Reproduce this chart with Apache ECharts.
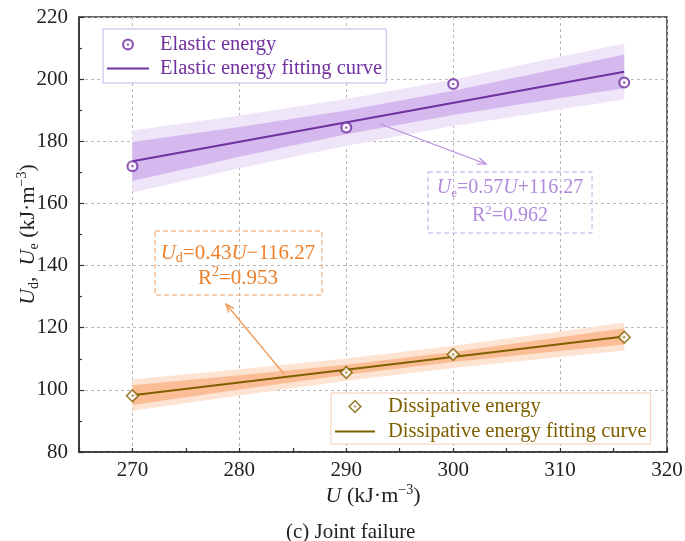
<!DOCTYPE html>
<html><head><meta charset="utf-8">
<script src="https://cdn.jsdelivr.net/npm/echarts@6/dist/echarts.min.js"></script>
<style>html,body{margin:0;padding:0;background:#fff}#c{width:685px;height:541px}</style>
</head><body><div id="c"></div>
<script>
// ---------- data ----------
const xTickLabels = [270, 280, 290, 300, 310, 320];
const yTickLabels = [80, 100, 120, 140, 160, 180, 200, 220];
const elasticX = [270, 290, 300, 316];
const elasticY = [172.0, 184.4, 198.4, 198.9];
const dissipX = [270, 290, 300, 316];
const dissipY = [98.1, 105.6, 111.4, 116.9];
const fitX = [270, 316];
const elasticFitY = [173.6, 202.4];
const dissipFitY = [98.3, 117.2];
const bandX = [270, 280, 290, 300, 310, 316];
const elasticConfUpper = [179.8, 184.6, 189.9, 196.3, 203.5, 207.9];
const elasticConfLower = [167.2, 175.0, 182.3, 188.5, 193.9, 197.1];
const elasticPredUpper = [183.5, 188.3, 193.6, 199.9, 207.2, 211.5];
const elasticPredLower = [163.5, 171.3, 178.6, 184.9, 190.2, 193.5];
const dissipConfUpper = [101.5, 104.7, 108.1, 112.2, 116.9, 119.8];
const dissipConfLower = [95.1, 100.1, 104.9, 109.0, 112.5, 114.6];
const dissipPredUpper = [103.3, 106.6, 110.1, 114.2, 118.8, 121.7];
const dissipPredLower = [93.3, 98.2, 102.9, 107.0, 110.6, 112.7];

// ---------- styles ----------
const SERIF = '"Liberation Serif","Times New Roman",serif';
const PURPLE = '#7030a0', PURPLE_T = '#b088dc', PURPLE_D = '#d4b8ee', PURPLE_L = '#efe5f9';
const OLIVE = '#7f6000', ORANGE = '#ef7f2a', ORANGE_D = '#fbbd95', ORANGE_L = '#fde3d2';
const ringPath = 'path://M0,-10A10,10,0,1,1,0,10A10,10,0,1,1,0,-10ZM0,-6.4A6.4,6.4,0,1,0,0,6.4A6.4,6.4,0,1,0,0,-6.4ZM0,-2A2,2,0,1,1,0,2A2,2,0,1,1,0,-2Z';
const diamondPath = 'path://M0,-10L10,0L0,10L-10,0ZM0,-6.8L-6.8,0L0,6.8L6.8,0ZM0,-1.8L1.8,0L0,1.8L-1.8,0Z';
const linePath = 'path://M0,0H40V2H0Z';

// rich styles for ECharts text options (color) and raw zrender graphic text (fill)
function rich(color, fs, key) {
  key = key || 'color';
  const mk = (o) => { o[key] = color; return o; };
  return {
    i: mk({fontFamily: SERIF, fontStyle: 'italic', fontSize: fs, lineHeight: fs + 4}),
    n: mk({fontFamily: SERIF, fontSize: fs, lineHeight: fs + 4}),
    sub: mk({fontFamily: SERIF, fontSize: Math.round(fs * 0.65), verticalAlign: 'bottom', lineHeight: Math.round(fs * 0.7)}),
    sup: mk({fontFamily: SERIF, fontSize: Math.round(fs * 0.65), verticalAlign: 'top', lineHeight: Math.round(fs * 0.7)})
  };
}

function band(upper, lower, color) {
  return {
    type: 'custom', silent: true, z: 1,
    data: [[bandX[0], upper[0]]],
    renderItem: function (params, api) {
      const pts = [];
      for (let i = 0; i < bandX.length; i++) pts.push(api.coord([bandX[i], upper[i]]));
      for (let i = bandX.length - 1; i >= 0; i--) pts.push(api.coord([bandX[i], lower[i]]));
      return {type: 'polygon', shape: {points: pts}, style: {fill: color}};
    }
  };
}
const zip = (xs, ys) => xs.map((x, i) => [x, ys[i]]);

function arrow(x1, y1, x2, y2, color) {
  const a = Math.atan2(y2 - y1, x2 - x1), L = 9, w = 0.38;
  return [
    {type: 'line', shape: {x1, y1, x2, y2}, style: {stroke: color, lineWidth: 1.3}, z: 20},
    {type: 'polyline', shape: {points: [[x2 - L * Math.cos(a - w), y2 - L * Math.sin(a - w)], [x2, y2], [x2 - L * Math.cos(a + w), y2 - L * Math.sin(a + w)]]}, style: {stroke: color, lineWidth: 1.3, fill: null}, z: 20}
  ];
}

const chart = echarts.init(document.getElementById('c'), null, {renderer: 'canvas'});
const axisColor = '#333';
const option = {
  backgroundColor: '#fff',
  animation: false,
  title: {text: '(c) Joint failure', left: 281, top: 517, textStyle: {fontFamily: SERIF, fontSize: 21, fontWeight: 'normal', color: '#222'}},
  grid: {left: 79, right: 18, top: 17, bottom: 89, show: true, borderColor: axisColor, borderWidth: 1.5, outerBoundsMode: 'none'},
  legend: [
    {
      left: 103, top: 29, orient: 'vertical', selectedMode: false,
      backgroundColor: '#fff', borderColor: '#c9b3ea', borderWidth: 1, padding: [5, 4, 4, 4], itemGap: 3,
      itemWidth: 42, itemHeight: 12,
      textStyle: {fontFamily: SERIF, fontSize: 20.5, color: PURPLE, padding: [0, 0, 0, 6]},
      data: [
        {name: 'Elastic energy', icon: ringPath, itemStyle: {color: PURPLE, borderWidth: 0}},
        {name: 'Elastic energy fitting curve', icon: linePath, itemStyle: {color: PURPLE, borderWidth: 0}}
      ]
    },
    {
      left: 331, top: 393, orient: 'vertical', selectedMode: false,
      backgroundColor: '#fff', borderColor: '#f6cfb4', borderWidth: 1, padding: [3, 4, 2, 4], itemGap: 4,
      itemWidth: 40, itemHeight: 14,
      textStyle: {fontFamily: SERIF, fontSize: 20.5, color: OLIVE, padding: [0, 0, 0, 8]},
      data: [
        {name: 'Dissipative energy', icon: diamondPath, itemStyle: {color: OLIVE, borderWidth: 0}},
        {name: 'Dissipative energy fitting curve', icon: linePath, itemStyle: {color: OLIVE, borderWidth: 0}}
      ]
    }
  ],
  xAxis: {
    type: 'value', min: 265, max: 320, interval: 5,
    name: '{i|U}{n| (kJ·m}{sup|−3}{n|)}', nameLocation: 'middle', nameGap: 31, nameMoveOverlap: false,
    nameTextStyle: {rich: rich('#222', 22)},
    axisLine: {lineStyle: {color: axisColor, width: 1.5}},
    axisTick: {inside: true, length: 4, lineStyle: {color: axisColor, width: 1.2}},
    axisLabel: {fontFamily: SERIF, fontSize: 21, color: '#222', margin: 8,
      formatter: v => (xTickLabels.indexOf(v) >= 0 ? String(v) : '')},
    splitLine: {show: true, lineStyle: {color: ['transparent', '#b8b8b8'], type: [3, 3], width: 1}}
  },
  yAxis: {
    type: 'value', min: 80, max: 220, interval: 20,
    name: '{i|U}{sub|d}{n|,  }{i|U}{sub|e}{n| (kJ·m}{sup|−3}{n|)}', nameLocation: 'middle', nameGap: 38, nameRotate: 90, nameMoveOverlap: false,
    nameTextStyle: {rich: rich('#222', 22)},
    axisLine: {lineStyle: {color: axisColor, width: 1.5}},
    axisTick: {inside: true, length: 5, lineStyle: {color: axisColor, width: 1.2}},
    minorTick: {show: true, splitNumber: 2, length: 3, lineStyle: {color: axisColor, width: 1.2}},
    axisLabel: {fontFamily: SERIF, fontSize: 21, color: '#222', margin: 11,
      formatter: v => (yTickLabels.indexOf(v) >= 0 ? String(v) : '')},
    splitLine: {show: true, lineStyle: {color: '#b8b8b8', type: [3, 3], width: 1}}
  },
  series: [
    band(elasticPredUpper, elasticPredLower, PURPLE_L),
    band(elasticConfUpper, elasticConfLower, PURPLE_D),
    band(dissipPredUpper, dissipPredLower, ORANGE_L),
    band(dissipConfUpper, dissipConfLower, ORANGE_D),
    {name: 'Elastic energy fitting curve', type: 'line', z: 3, showSymbol: false, silent: true,
      data: zip(fitX, elasticFitY), lineStyle: {color: PURPLE, width: 2}, itemStyle: {color: PURPLE}},
    {name: 'Dissipative energy fitting curve', type: 'line', z: 3, showSymbol: false, silent: true,
      data: zip(fitX, dissipFitY), lineStyle: {color: OLIVE, width: 2}, itemStyle: {color: OLIVE}},
    {type: 'scatter', z: 4, silent: true, symbol: 'circle', symbolSize: 10, data: zip(elasticX, elasticY), itemStyle: {color: '#fff'}},
    {type: 'scatter', z: 4, silent: true, symbol: 'diamond', symbolSize: 11, data: zip(dissipX, dissipY), itemStyle: {color: '#fff'}},
    {name: 'Elastic energy', type: 'scatter', z: 5, silent: true, symbol: ringPath, symbolSize: 12,
      data: zip(elasticX, elasticY), itemStyle: {color: PURPLE}},
    {name: 'Dissipative energy', type: 'scatter', z: 5, silent: true, symbol: diamondPath, symbolSize: 14,
      data: zip(dissipX, dissipY), itemStyle: {color: OLIVE}}
  ],
  graphic: [
    {type: 'rect', shape: {x: 428, y: 172, width: 164, height: 61}, style: {fill: 'rgba(255,255,255,0)', stroke: '#c4a6e8', lineWidth: 1, lineDash: [5, 3]}, z: 20},
    {type: 'text', x: 510, y: 188, style: {text: '{i|U}{sub|e}{n|=0.57}{i|U}{n|+116.27}', rich: rich(PURPLE_T, 20, 'fill'), align: 'center', verticalAlign: 'middle'}, z: 21},
    {type: 'text', x: 510, y: 216, style: {text: '{n|R}{sup|2}{n|=0.962}', rich: rich(PURPLE_T, 20, 'fill'), align: 'center', verticalAlign: 'middle'}, z: 21},
    {type: 'rect', shape: {x: 155, y: 231, width: 167, height: 64}, style: {fill: 'rgba(255,255,255,0)', stroke: '#f0a060', lineWidth: 1, lineDash: [5, 3]}, z: 20},
    {type: 'text', x: 238, y: 253, style: {text: '{i|U}{sub|d}{n|=0.43}{i|U}{n|−116.27}', rich: rich(ORANGE, 21, 'fill'), align: 'center', verticalAlign: 'middle'}, z: 21},
    {type: 'text', x: 238, y: 278, style: {text: '{n|R}{sup|2}{n|=0.953}', rich: rich(ORANGE, 21, 'fill'), align: 'center', verticalAlign: 'middle'}, z: 21},
    ...arrow(380, 124, 486, 164, '#b48de0'),
    ...arrow(284, 374, 226, 304, '#f29a55')
  ]
};
chart.setOption(option);
</script>
</body></html>
